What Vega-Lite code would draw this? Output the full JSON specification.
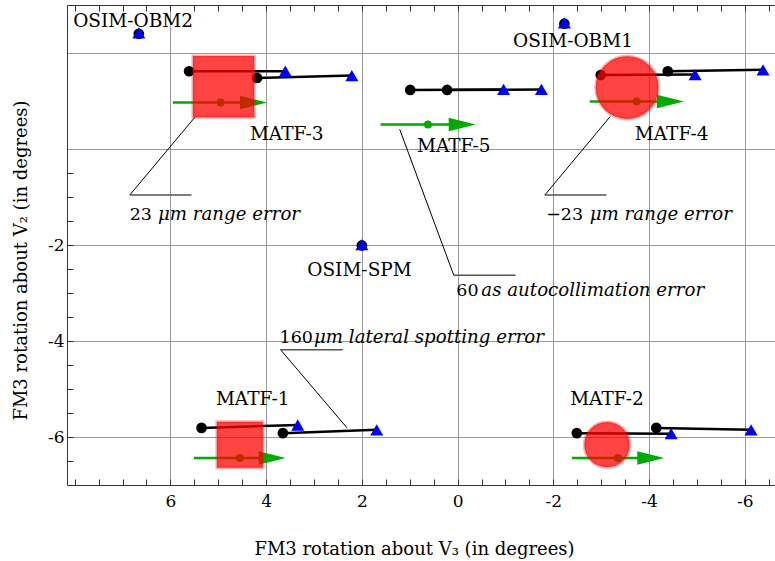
{
  "$schema": "https://vega.github.io/schema/vega-lite/v6.json",
  "width": 708,
  "height": 480,
  "autosize": "none",
  "padding": {"left": 67, "top": 5, "right": 0, "bottom": 76},
  "background": "white",
  "config": {"view": {"stroke": null}},
  "datasets": {
    "segs": [
      {"g": "MATF-3", "x": 5.61, "y": 1.62, "x2": 3.60, "y2": 1.62},
      {"g": "MATF-3", "x": 4.19, "y": 1.48, "x2": 2.21, "y2": 1.53},
      {"g": "MATF-5", "x": 0.99, "y": 1.23, "x2": -0.96, "y2": 1.24},
      {"g": "MATF-5", "x": 0.22, "y": 1.23, "x2": -1.75, "y2": 1.24},
      {"g": "MATF-4", "x": -2.99, "y": 1.54, "x2": -4.96, "y2": 1.55},
      {"g": "MATF-4", "x": -4.39, "y": 1.62, "x2": -6.38, "y2": 1.65},
      {"g": "MATF-1", "x": 5.35, "y": -5.81, "x2": 3.34, "y2": -5.75},
      {"g": "MATF-1", "x": 3.65, "y": -5.92, "x2": 1.69, "y2": -5.85},
      {"g": "MATF-2", "x": -2.49, "y": -5.92, "x2": -4.46, "y2": -5.93},
      {"g": "MATF-2", "x": -4.15, "y": -5.81, "x2": -6.13, "y2": -5.85},
      {"g": "OSIM-OBM2", "x": 6.66, "y": 2.40, "x2": 6.66, "y2": 2.42},
      {"g": "OSIM-OBM1", "x": -2.23, "y": 2.61, "x2": -2.23, "y2": 2.63},
      {"g": "OSIM-SPM", "x": 2.0, "y": -2.01, "x2": 2.0, "y2": -1.99}
    ],
    "arrows": [
      {"g": "MATF-3", "x": 5.95, "x2": 4.265, "dx": 4.95, "y": 0.97},
      {"g": "MATF-5", "x": 1.61, "x2": -0.095, "dx": 0.62, "y": 0.51},
      {"g": "MATF-4", "x": -2.76, "x2": -4.445, "dx": -3.74, "y": 0.99},
      {"g": "MATF-1", "x": 5.51, "x2": 3.875, "dx": 4.55, "y": -6.44},
      {"g": "MATF-2", "x": -2.39, "x2": -4.035, "dx": -3.35, "y": -6.44}
    ],
    "errs": [
      {"g": "MATF-3", "kind": "square", "x": 4.89, "y": 1.30, "hw": 0.64},
      {"g": "MATF-4", "kind": "circle", "x": -3.54, "y": 1.28, "hw": 0.655},
      {"g": "MATF-1", "kind": "square", "x": 4.55, "y": -6.16, "hw": 0.48},
      {"g": "MATF-2", "kind": "circle", "x": -3.12, "y": -6.16, "hw": 0.473}
    ],
    "labels": [
      {"t": "OSIM-OBM2", "x": 6.78, "y": 2.67},
      {"t": "OSIM-OBM1", "x": -2.41, "y": 2.24},
      {"t": "OSIM-SPM", "x": 2.05, "y": -2.53},
      {"t": "MATF-3", "x": 3.57, "y": 0.31},
      {"t": "MATF-5", "x": 0.08, "y": 0.06},
      {"t": "MATF-4", "x": -4.47, "y": 0.31},
      {"t": "MATF-1", "x": 4.28, "y": -5.20},
      {"t": "MATF-2", "x": -3.12, "y": -5.20}
    ],
    "leaders": [
      {"x": 5.49, "y": 0.66, "x2": 6.85, "y2": -0.96},
      {"x": -3.19, "y": 0.68, "x2": -1.82, "y2": -0.96},
      {"x": 1.21, "y": 0.41, "x2": 0.08, "y2": -2.63},
      {"x": 3.70, "y": -4.18, "x2": 2.31, "y2": -5.81}
    ],
    "underlines": [
      {"x": 6.85, "x2": 5.56, "y": -0.96},
      {"x": -1.82, "x2": -3.11, "y": -0.96},
      {"x": 0.08, "x2": -1.21, "y": -2.63},
      {"x": 3.70, "x2": 2.40, "y": -4.18}
    ],
    "notesUp": [
      {"t": "23", "x": 6.85, "y": -1.47},
      {"t": "−23", "x": -1.85, "y": -1.47},
      {"t": "60", "x": 0.027, "y": -3.07},
      {"t": "160", "x": 3.72, "y": -4.04}
    ],
    "notesIt": [
      {"t": "μm range error", "x": 6.26, "y": -1.47},
      {"t": "μm range error", "x": -2.76, "y": -1.47},
      {"t": "as autocollimation error", "x": -0.495, "y": -3.07},
      {"t": "μm lateral spotting error", "x": 3.0, "y": -4.04}
    ]
  },
  "layer": [
    {
      "data": {"name": "segs"},
      "mark": {"type": "rule", "color": "black", "strokeWidth": 2.5},
      "encoding": {
        "x": {
          "field": "x", "type": "quantitative",
          "scale": {"domain": [-6.63, 8.16], "reverse": true, "nice": false, "zero": false},
          "axis": {
            "orient": "bottom",
            "values": [8,7.5,7,6.5,6,5.5,5,4.5,4,3.5,3,2.5,2,1.5,1,0.5,0,-0.5,-1,-1.5,-2,-2.5,-3,-3.5,-4,-4.5,-5,-5.5,-6,-6.5],
            "grid": true,
            "gridColor": "#9a9a9a",
            "gridWidth": 1,
            "gridOpacity": {"condition": {"test": "datum.value % 2 == 0 && datum.value < 7", "value": 1}, "value": 0},
            "ticks": true,
            "tickSize": -6,
            "tickColor": "#333333",
            "tickWidth": 1,
            "domainColor": "#333333",
            "domainWidth": 1,
            "labelExpr": "datum.value % 2 == 0 && datum.value < 7 ? '' + datum.value : ''",
            "labelFont": "DejaVu Serif",
            "labelFontSize": 17,
            "labelColor": "black",
            "labelBaseline": "middle",
            "labelPadding": 22,
            "labelFlush": false,
            "labelOverlap": false,
            "title": "FM3 rotation about V₃ (in degrees)",
            "titleFont": "DejaVu Serif",
            "titleFontSize": 18,
            "titleFontWeight": "normal",
            "titleColor": "black",
            "titleX": 347,
            "titleY": 64,
            "titleAlign": "center",
            "titleBaseline": "middle"
          }
        },
        "x2": {"field": "x2"},
        "y": {
          "field": "y", "type": "quantitative",
          "scale": {"domain": [-7, 3], "nice": false, "zero": false},
          "axis": {
            "orient": "left",
            "values": [-6.5,-6,-5.5,-5,-4.5,-4,-3.5,-3,-2.5,-2,-1.5,-1,-0.5,0,2],
            "grid": true,
            "gridColor": "#9a9a9a",
            "gridWidth": 1,
            "gridOpacity": {"condition": {"test": "datum.value % 2 == 0", "value": 1}, "value": 0},
            "ticks": true,
            "tickSize": -6,
            "tickOpacity": {"condition": {"test": "datum.value >= 0", "value": 0}, "value": 1},
            "tickColor": "#333333",
            "tickWidth": 1,
            "domainColor": "#333333",
            "domainWidth": 1,
            "labelExpr": "datum.value < 0 && datum.value % 2 == 0 ? '' + datum.value : ''",
            "labelFont": "DejaVu Serif",
            "labelFontSize": 17,
            "labelColor": "black",
            "labelPadding": 9,
            "labelFlush": false,
            "labelOverlap": false,
            "title": "FM3 rotation about V₂ (in degrees)",
            "titleFont": "DejaVu Serif",
            "titleFontSize": 18,
            "titleFontWeight": "normal",
            "titleColor": "black",
            "titleX": -46,
            "titleY": 255,
            "titleAlign": "center",
            "titleBaseline": "middle"
          }
        },
        "y2": {"field": "y2"}
      }
    },
    {
      "data": {"name": "segs"},
      "mark": {"type": "point", "shape": "circle", "filled": true, "color": "black", "opacity": 1, "size": 115},
      "encoding": {
        "x": {
          "field": "x", "type": "quantitative",
          "scale": {"domain": [-6.63, 8.16], "reverse": true, "nice": false, "zero": false},
          "axis": {
            "orient": "top",
            "values": [8,7.5,7,6.5,6,5.5,5,4.5,4,3.5,3,2.5,2,1.5,1,0.5,0,-0.5,-1,-1.5,-2,-2.5,-3,-3.5,-4,-4.5,-5,-5.5,-6,-6.5],
            "grid": false,
            "labels": false,
            "ticks": true,
            "tickSize": -6,
            "tickColor": "#333333",
            "tickWidth": 1,
            "domainColor": "#333333",
            "domainWidth": 1,
            "title": null
          }
        },
        "y": {"field": "y", "type": "quantitative", "scale": {"domain": [-7, 3], "nice": false, "zero": false}, "axis": null}
      }
    },
    {
      "data": {"name": "segs"},
      "mark": {"type": "point", "shape": "triangle-up", "filled": true, "color": "#0000ff", "opacity": 1, "size": 169},
      "encoding": {
        "x": {"field": "x2", "type": "quantitative", "scale": {"domain": [-6.63, 8.16], "reverse": true, "nice": false, "zero": false}, "axis": null},
        "y": {"field": "y2", "type": "quantitative", "scale": {"domain": [-7, 3], "nice": false, "zero": false}, "axis": null}
      }
    },
    {
      "data": {"name": "arrows"},
      "mark": {"type": "rule", "color": "#00aa00", "strokeWidth": 2.5},
      "encoding": {
        "x": {"field": "x", "type": "quantitative", "scale": {"domain": [-6.63, 8.16], "reverse": true, "nice": false, "zero": false}, "axis": null},
        "x2": {"field": "x2"},
        "y": {"field": "y", "type": "quantitative", "scale": {"domain": [-7, 3], "nice": false, "zero": false}, "axis": null}
      }
    },
    {
      "data": {"name": "arrows"},
      "mark": {"type": "point", "shape": "circle", "filled": true, "color": "#00aa00", "opacity": 1, "size": 64},
      "encoding": {
        "x": {"field": "dx", "type": "quantitative", "scale": {"domain": [-6.63, 8.16], "reverse": true, "nice": false, "zero": false}, "axis": null},
        "y": {"field": "y", "type": "quantitative", "scale": {"domain": [-7, 3], "nice": false, "zero": false}, "axis": null}
      }
    },
    {
      "data": {"name": "arrows"},
      "mark": {"type": "point", "shape": "M-1,-0.5L1,0L-1,0.5Z", "filled": true, "color": "#00aa00", "opacity": 1, "size": 729},
      "encoding": {
        "x": {"field": "x2", "type": "quantitative", "scale": {"domain": [-6.63, 8.16], "reverse": true, "nice": false, "zero": false}, "axis": null},
        "y": {"field": "y", "type": "quantitative", "scale": {"domain": [-7, 3], "nice": false, "zero": false}, "axis": null}
      }
    },
    {
      "data": {"name": "errs"},
      "mark": {"type": "point", "filled": true, "fill": "#ff0000", "fillOpacity": 0.74, "stroke": "#ff0000", "strokeOpacity": 0.3, "strokeWidth": 3, "opacity": 1},
      "encoding": {
        "x": {"field": "x", "type": "quantitative", "scale": {"domain": [-6.63, 8.16], "reverse": true, "nice": false, "zero": false}, "axis": null},
        "y": {"field": "y", "type": "quantitative", "scale": {"domain": [-7, 3], "nice": false, "zero": false}, "axis": null},
        "shape": {"field": "kind", "type": "nominal", "scale": {"domain": ["square", "circle"], "range": ["square", "circle"]}, "legend": null},
        "size": {"field": "hw", "type": "quantitative", "scale": {"type": "pow", "exponent": 2, "domain": [0, 1], "range": [0, 9166]}, "legend": null}
      }
    },
    {
      "data": {"name": "leaders"},
      "mark": {"type": "rule", "color": "black", "strokeWidth": 1},
      "encoding": {
        "x": {"field": "x", "type": "quantitative", "scale": {"domain": [-6.63, 8.16], "reverse": true, "nice": false, "zero": false}, "axis": null},
        "x2": {"field": "x2"},
        "y": {"field": "y", "type": "quantitative", "scale": {"domain": [-7, 3], "nice": false, "zero": false}, "axis": null},
        "y2": {"field": "y2"}
      }
    },
    {
      "data": {"name": "underlines"},
      "mark": {"type": "rule", "color": "#555555", "strokeWidth": 1.5},
      "encoding": {
        "x": {"field": "x", "type": "quantitative", "scale": {"domain": [-6.63, 8.16], "reverse": true, "nice": false, "zero": false}, "axis": null},
        "x2": {"field": "x2"},
        "y": {"field": "y", "type": "quantitative", "scale": {"domain": [-7, 3], "nice": false, "zero": false}, "axis": null}
      }
    },
    {
      "data": {"name": "labels"},
      "mark": {"type": "text", "font": "DejaVu Serif", "fontSize": 18.5, "align": "center", "baseline": "middle", "color": "black"},
      "encoding": {
        "x": {"field": "x", "type": "quantitative", "scale": {"domain": [-6.63, 8.16], "reverse": true, "nice": false, "zero": false}, "axis": null},
        "y": {"field": "y", "type": "quantitative", "scale": {"domain": [-7, 3], "nice": false, "zero": false}, "axis": null},
        "text": {"field": "t"}
      }
    },
    {
      "data": {"name": "notesUp"},
      "mark": {"type": "text", "font": "DejaVu Serif", "fontSize": 17.5, "align": "left", "baseline": "alphabetic", "color": "black"},
      "encoding": {
        "x": {"field": "x", "type": "quantitative", "scale": {"domain": [-6.63, 8.16], "reverse": true, "nice": false, "zero": false}, "axis": null},
        "y": {"field": "y", "type": "quantitative", "scale": {"domain": [-7, 3], "nice": false, "zero": false}, "axis": null},
        "text": {"field": "t"}
      }
    },
    {
      "data": {"name": "notesIt"},
      "mark": {"type": "text", "font": "DejaVu Serif", "fontSize": 18.2, "fontStyle": "italic", "align": "left", "baseline": "alphabetic", "color": "black"},
      "encoding": {
        "x": {"field": "x", "type": "quantitative", "scale": {"domain": [-6.63, 8.16], "reverse": true, "nice": false, "zero": false}, "axis": null},
        "y": {"field": "y", "type": "quantitative", "scale": {"domain": [-7, 3], "nice": false, "zero": false}, "axis": null},
        "text": {"field": "t"}
      }
    }
  ],
  "resolve": {"axis": {"x": "independent", "y": "independent"}}
}
